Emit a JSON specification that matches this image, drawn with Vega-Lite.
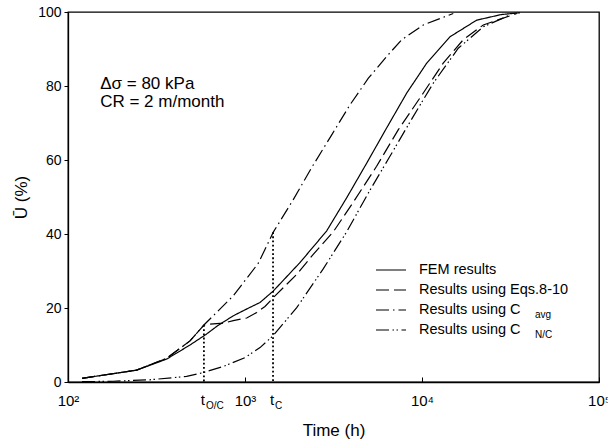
{
  "$schema": "https://vega.github.io/schema/vega-lite/v6.json",
  "width": 531,
  "height": 370,
  "autosize": {"type": "none"},
  "padding": {"left": 68, "top": 12, "right": 9, "bottom": 63},
  "config": {
    "font": "Liberation Sans",
    "view": {"stroke": "black", "strokeWidth": 1.3},
    "axis": {"grid": false, "domainColor": "black", "tickColor": "black", "labelColor": "black", "titleColor": "black", "titleFontWeight": "normal", "domainWidth": 1.3}
  },
  "datasets": {
    "curves": [
      {"series": "FEM results", "t": 120, "U": 1.0},
      {"series": "FEM results", "t": 244, "U": 3.2},
      {"series": "FEM results", "t": 361, "U": 6.2},
      {"series": "FEM results", "t": 489, "U": 10.0},
      {"series": "FEM results", "t": 600, "U": 12.8},
      {"series": "FEM results", "t": 700, "U": 15.2},
      {"series": "FEM results", "t": 859, "U": 17.9},
      {"series": "FEM results", "t": 1000, "U": 19.5},
      {"series": "FEM results", "t": 1216, "U": 21.5},
      {"series": "FEM results", "t": 1445, "U": 24.6},
      {"series": "FEM results", "t": 2046, "U": 32.3},
      {"series": "FEM results", "t": 2890, "U": 40.8},
      {"series": "FEM results", "t": 3755, "U": 49.8},
      {"series": "FEM results", "t": 4877, "U": 59.2},
      {"series": "FEM results", "t": 6320, "U": 68.7},
      {"series": "FEM results", "t": 8200, "U": 78.1},
      {"series": "FEM results", "t": 10640, "U": 86.2},
      {"series": "FEM results", "t": 14390, "U": 93.3},
      {"series": "FEM results", "t": 20370, "U": 97.8},
      {"series": "FEM results", "t": 28000, "U": 99.3},
      {"series": "FEM results", "t": 35800, "U": 99.8},
      {"series": "Results using Eqs.8-10", "t": 120, "U": 1.0},
      {"series": "Results using Eqs.8-10", "t": 244, "U": 3.2},
      {"series": "Results using Eqs.8-10", "t": 361, "U": 6.4},
      {"series": "Results using Eqs.8-10", "t": 489, "U": 11.1},
      {"series": "Results using Eqs.8-10", "t": 586, "U": 15.4},
      {"series": "Results using Eqs.8-10", "t": 617, "U": 15.6},
      {"series": "Results using Eqs.8-10", "t": 754, "U": 15.9},
      {"series": "Results using Eqs.8-10", "t": 859, "U": 16.6},
      {"series": "Results using Eqs.8-10", "t": 1023, "U": 17.3},
      {"series": "Results using Eqs.8-10", "t": 1165, "U": 18.8},
      {"series": "Results using Eqs.8-10", "t": 1297, "U": 20.4},
      {"series": "Results using Eqs.8-10", "t": 1445, "U": 22.8},
      {"series": "Results using Eqs.8-10", "t": 1960, "U": 29.1},
      {"series": "Results using Eqs.8-10", "t": 2430, "U": 34.5},
      {"series": "Results using Eqs.8-10", "t": 3155, "U": 40.6},
      {"series": "Results using Eqs.8-10", "t": 4090, "U": 48.6},
      {"series": "Results using Eqs.8-10", "t": 5540, "U": 58.3},
      {"series": "Results using Eqs.8-10", "t": 7350, "U": 68.2},
      {"series": "Results using Eqs.8-10", "t": 10170, "U": 78.1},
      {"series": "Results using Eqs.8-10", "t": 13180, "U": 86.2},
      {"series": "Results using Eqs.8-10", "t": 17100, "U": 92.5},
      {"series": "Results using Eqs.8-10", "t": 22200, "U": 96.5},
      {"series": "Results using Eqs.8-10", "t": 34300, "U": 99.6},
      {"series": "Results using Cavg", "t": 120, "U": 1.0},
      {"series": "Results using Cavg", "t": 244, "U": 3.2},
      {"series": "Results using Cavg", "t": 361, "U": 6.4},
      {"series": "Results using Cavg", "t": 489, "U": 11.1},
      {"series": "Results using Cavg", "t": 586, "U": 15.4},
      {"series": "Results using Cavg", "t": 859, "U": 23.3},
      {"series": "Results using Cavg", "t": 1189, "U": 32.1},
      {"series": "Results using Cavg", "t": 1445, "U": 40.5},
      {"series": "Results using Cavg", "t": 1874, "U": 49.3},
      {"series": "Results using Cavg", "t": 2376, "U": 57.9},
      {"series": "Results using Cavg", "t": 3090, "U": 66.8},
      {"series": "Results using Cavg", "t": 3917, "U": 74.9},
      {"series": "Results using Cavg", "t": 4977, "U": 82.1},
      {"series": "Results using Cavg", "t": 6320, "U": 88.0},
      {"series": "Results using Cavg", "t": 7680, "U": 92.5},
      {"series": "Results using Cavg", "t": 10170, "U": 96.5},
      {"series": "Results using Cavg", "t": 15020, "U": 99.6},
      {"series": "Results using CN/C", "t": 120, "U": 0.1},
      {"series": "Results using CN/C", "t": 180, "U": 0.2},
      {"series": "Results using CN/C", "t": 290, "U": 0.6},
      {"series": "Results using CN/C", "t": 468, "U": 1.5},
      {"series": "Results using CN/C", "t": 586, "U": 2.6},
      {"series": "Results using CN/C", "t": 754, "U": 4.2},
      {"series": "Results using CN/C", "t": 1000, "U": 6.6},
      {"series": "Results using CN/C", "t": 1216, "U": 9.3},
      {"series": "Results using CN/C", "t": 1440, "U": 12.5},
      {"series": "Results using CN/C", "t": 1960, "U": 20.1},
      {"series": "Results using CN/C", "t": 2760, "U": 30.5},
      {"series": "Results using CN/C", "t": 3755, "U": 40.6},
      {"series": "Results using CN/C", "t": 4977, "U": 51.1},
      {"series": "Results using CN/C", "t": 6590, "U": 61.0},
      {"series": "Results using CN/C", "t": 8930, "U": 71.8},
      {"series": "Results using CN/C", "t": 11590, "U": 80.8},
      {"series": "Results using CN/C", "t": 16030, "U": 90.2},
      {"series": "Results using CN/C", "t": 22200, "U": 96.0},
      {"series": "Results using CN/C", "t": 31400, "U": 99.2}
    ],
    "marks": [
      {"t": 586, "top": 15.4, "name": "t", "sub": "O/C"},
      {"t": 1440, "top": 40.5, "name": "t", "sub": "C"}
    ],
    "subs": [
      {"sub": "s1"}, {"sub": "s2"}, {"sub": "avg"}, {"sub": "N/C"}
    ],
    "note": [
      {"line": "note"}
    ]
  },
  "layer": [
    {
      "data": {"name": "curves"},
      "mark": {"type": "line", "color": "black", "strokeWidth": 1.2},
      "encoding": {
        "x": {
          "field": "t", "type": "quantitative",
          "scale": {"type": "log", "domain": [100, 100000]},
          "title": "Time (h)",
          "axis": {
            "values": [100, 1000, 10000, 100000],
            "labelExpr": "datum.value == 100 ? '10²' : datum.value == 1000 ? '10³' : datum.value == 10000 ? '10⁴' : '10⁵'",
            "labelFontSize": 15,
            "tickSize": -5,
            "labelPadding": 16,
            "titleFontSize": 17,
            "titlePadding": 14,
            "labelFlush": false,
            "labelOverlap": false
          }
        },
        "y": {
          "field": "U", "type": "quantitative",
          "scale": {"domain": [0, 100]},
          "title": "Ū (%)",
          "axis": {
            "values": [0, 20, 40, 60, 80, 100],
            "labelFontSize": 14,
            "tickSize": 4,
            "labelPadding": 3,
            "titleFontSize": 17,
            "titlePadding": 7
          }
        },
        "strokeDash": {
          "field": "series", "type": "nominal",
          "scale": {
            "domain": ["FEM results", "Results using Eqs.8-10", "Results using Cavg", "Results using CN/C"],
            "range": [[1, 0], [13, 5], [13, 4, 1.5, 4], [13, 3.5, 1.5, 2.5, 1.5, 3.5]]
          },
          "legend": {
            "orient": "none", "legendX": 307, "legendY": 248,
            "title": null,
            "symbolType": "stroke", "symbolSize": 900, "symbolStrokeWidth": 1.2, "symbolStrokeColor": "black",
            "labelFontSize": 14.5, "labelOffset": 12, "labelLimit": 300, "labelColor": "black",
            "clipHeight": 20, "rowPadding": 0, "padding": 0,
            "labelExpr": "datum.label == 'Results using Cavg' || datum.label == 'Results using CN/C' ? 'Results using C' : datum.label"
          }
        }
      }
    },
    {
      "data": {"name": "marks"},
      "mark": {"type": "rule", "color": "black", "strokeWidth": 1.8, "strokeDash": [1.8, 2.4]},
      "encoding": {
        "x": {"field": "t", "type": "quantitative", "title": "Time (h)"},
        "y": {"field": "top", "type": "quantitative", "title": "Ū (%)"},
        "y2": {"datum": 0}
      }
    },
    {
      "data": {"name": "marks"},
      "mark": {"type": "text", "fontSize": 15, "align": "center", "baseline": "alphabetic", "dx": -1, "dy": 23, "color": "black"},
      "encoding": {
        "x": {"field": "t", "type": "quantitative", "title": "Time (h)"},
        "y": {"datum": 0, "type": "quantitative"},
        "text": {"field": "name", "type": "nominal"}
      }
    },
    {
      "data": {"name": "marks"},
      "mark": {"type": "text", "fontSize": 10, "align": "left", "baseline": "alphabetic", "dx": 2, "dy": 27, "color": "black"},
      "encoding": {
        "x": {"field": "t", "type": "quantitative", "title": "Time (h)"},
        "y": {"datum": 0, "type": "quantitative"},
        "text": {"field": "sub", "type": "nominal"}
      }
    },
    {
      "data": {"name": "note"},
      "mark": {"type": "text", "text": ["Δσ = 80 kPa", "CR = 2 m/month"], "fontSize": 17, "lineHeight": 18, "align": "left", "baseline": "alphabetic", "color": "black"},
      "encoding": {
        "x": {"datum": 152, "type": "quantitative"},
        "y": {"datum": 79.2, "type": "quantitative"}
      }
    },
    {
      "data": {"name": "subs"},
      "mark": {"type": "point", "opacity": 0},
      "encoding": {
        "x": {"datum": 1000, "type": "quantitative"},
        "y": {"datum": 50, "type": "quantitative"},
        "shape": {
          "field": "sub", "type": "nominal",
          "scale": {"domain": ["s1", "s2", "avg", "N/C"]},
          "legend": {
            "orient": "none", "legendX": 457, "legendY": 253,
            "title": null,
            "symbolSize": 0, "symbolOpacity": 0, "symbolStrokeWidth": 0,
            "labelFontSize": 10, "labelOffset": 0, "labelColor": "black",
            "clipHeight": 20, "rowPadding": 0, "padding": 0,
            "labelExpr": "datum.label == 's1' || datum.label == 's2' ? '' : datum.label"
          }
        }
      }
    }
  ]
}
